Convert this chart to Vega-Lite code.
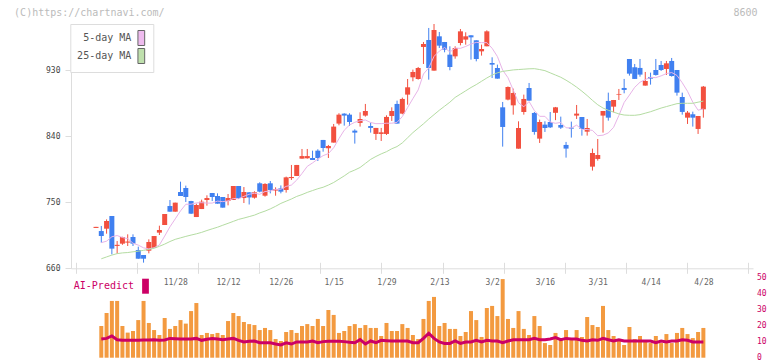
{
"$schema": "https://vega.github.io/schema/vega-lite/v6.json",
"width": 682, "height": 244.3,
"padding": {"left": 71, "top": 24, "right": 19, "bottom": 92.7},
"autosize": {"type": "none"},
"background": "white",
"config": {"view": {"stroke": null}, "axis": {"grid": false}},
"data": {"values": [
{"i":0,"o":715,"h":716.5,"l":715,"c":716.5,"v":null,"p":null,"m5":null,"m25":null},
{"i":1,"o":710.8,"h":717.7,"l":694.9,"c":704,"v":19.7,"p":11.6,"m5":695,"m25":673},
{"i":2,"o":714,"h":726.7,"l":707.2,"c":724.5,"v":27.8,"p":12,"m5":697,"m25":675.5},
{"i":3,"o":731.3,"h":731.3,"l":679,"c":686.8,"v":35.3,"p":13.5,"m5":703,"m25":678},
{"i":4,"o":690.5,"h":697.2,"l":679.9,"c":692,"v":35.3,"p":11.2,"m5":704.7,"m25":680},
{"i":5,"o":693.6,"h":703,"l":692,"c":702.7,"v":19.7,"p":10.8,"m5":702,"m25":681},
{"i":6,"o":695,"h":706.3,"l":690.4,"c":696.5,"v":15.6,"p":10.8,"m5":700.4,"m25":681.5},
{"i":7,"o":702.7,"h":706.3,"l":690.4,"c":693.6,"v":16.6,"p":10.8,"m5":694.2,"m25":682.5},
{"i":8,"o":684.9,"h":689.5,"l":673,"c":673.1,"v":23.4,"p":10.8,"m5":691.6,"m25":683.3},
{"i":9,"o":678.1,"h":678.1,"l":667.7,"c":673.1,"v":35.3,"p":11,"m5":687.9,"m25":684.5},
{"i":10,"o":684,"h":699.5,"l":680.4,"c":695.9,"v":21.6,"p":11,"m5":686.5,"m25":685.8},
{"i":11,"o":687.7,"h":704,"l":687.7,"c":704,"v":17.2,"p":11.2,"m5":688.1,"m25":687.3},
{"i":12,"o":708.6,"h":718.1,"l":705.4,"c":712.2,"v":14.1,"p":10.8,"m5":691.8,"m25":690},
{"i":13,"o":719,"h":734,"l":719,"c":734,"v":24.7,"p":11,"m5":703.9,"m25":693},
{"i":14,"o":744.9,"h":753.1,"l":737.2,"c":737.2,"v":17.9,"p":12,"m5":716.6,"m25":696.5},
{"i":15,"o":737.2,"h":749.5,"l":737.2,"c":749.5,"v":19.7,"p":11.8,"m5":727.4,"m25":699.5},
{"i":16,"o":764,"h":778.1,"l":758.6,"c":758.6,"v":23.4,"p":11.6,"m5":738.3,"m25":701.5},
{"i":17,"o":769.5,"h":772.7,"l":750.4,"c":757.2,"v":21.2,"p":11.6,"m5":747.3,"m25":703.5},
{"i":18,"o":751.7,"h":752,"l":734,"c":734.5,"v":29,"p":11.6,"m5":747.4,"m25":705.3},
{"i":19,"o":729.9,"h":748.1,"l":729.9,"c":746.3,"v":34,"p":12,"m5":749.2,"m25":707},
{"i":20,"o":740.8,"h":753.6,"l":740.8,"c":750.8,"v":14.1,"p":10.8,"m5":749.5,"m25":709},
{"i":21,"o":753.1,"h":759.5,"l":745.4,"c":755.8,"v":15.4,"p":11.5,"m5":748.9,"m25":711.5},
{"i":22,"o":762.7,"h":762.7,"l":751.7,"c":757.2,"v":14.7,"p":12,"m5":748.9,"m25":713.8},
{"i":23,"o":758.6,"h":762.2,"l":748.1,"c":748.1,"v":15.4,"p":11.6,"m5":751.6,"m25":716},
{"i":24,"o":757.2,"h":757.2,"l":742.7,"c":742.7,"v":14.1,"p":11.2,"m5":750.9,"m25":718.7},
{"i":25,"o":751.7,"h":761.3,"l":745.8,"c":755.8,"v":22.8,"p":11.6,"m5":751.9,"m25":721.3},
{"i":26,"o":753.1,"h":772.2,"l":753.1,"c":772.2,"v":27.8,"p":12,"m5":755.2,"m25":724},
{"i":27,"o":772.2,"h":772.2,"l":754.5,"c":755.8,"v":25.9,"p":10.8,"m5":754.9,"m25":726.7},
{"i":28,"o":755.8,"h":770.8,"l":749,"c":764,"v":22.2,"p":9.8,"m5":758.1,"m25":728.5},
{"i":29,"o":763.6,"h":764,"l":747,"c":756.6,"v":20.9,"p":10.2,"m5":760.9,"m25":730.5},
{"i":30,"o":756.3,"h":765,"l":755,"c":763.6,"v":20.3,"p":10.4,"m5":762.4,"m25":732.5},
{"i":31,"o":775.9,"h":777.3,"l":763.6,"c":764.5,"v":17.2,"p":9.3,"m5":760.9,"m25":735.5},
{"i":32,"o":759,"h":776,"l":757.7,"c":775,"v":18.5,"p":9.3,"m5":764.7,"m25":738},
{"i":33,"o":775.9,"h":779,"l":762.2,"c":766.8,"v":17.2,"p":9.3,"m5":765.3,"m25":741},
{"i":34,"o":766,"h":770.4,"l":759,"c":768,"v":11.6,"p":8.5,"m5":767.6,"m25":744.5},
{"i":35,"o":769,"h":773,"l":762.2,"c":764.5,"v":10.4,"p":7.9,"m5":767.8,"m25":748.5},
{"i":36,"o":766.8,"h":785,"l":763.2,"c":784,"v":16,"p":9.3,"m5":771.7,"m25":751.5},
{"i":37,"o":783,"h":800.9,"l":780.5,"c":784.5,"v":17.2,"p":8.5,"m5":773.5,"m25":754.5},
{"i":38,"o":785.9,"h":800.9,"l":785.9,"c":800.9,"v":15.4,"p":9.8,"m5":780.3,"m25":758},
{"i":39,"o":809.5,"h":822.7,"l":809.5,"c":813,"v":19.7,"p":9.8,"m5":789.3,"m25":760.5},
{"i":40,"o":810,"h":822.7,"l":809.5,"c":813,"v":20.9,"p":9.8,"m5":799,"m25":763.5},
{"i":41,"o":810.4,"h":820.4,"l":807.7,"c":807.7,"v":19.7,"p":10.4,"m5":803.7,"m25":766},
{"i":42,"o":820.4,"h":822.3,"l":806.3,"c":810.4,"v":24.1,"p":9.3,"m5":809,"m25":768.5},
{"i":43,"o":835,"h":835,"l":819,"c":824,"v":19.7,"p":10,"m5":813.6,"m25":770.5},
{"i":44,"o":823.6,"h":828.2,"l":810.4,"c":826.8,"v":29.7,"p":10.2,"m5":816.4,"m25":773.5},
{"i":45,"o":831.4,"h":856.8,"l":831.4,"c":853.2,"v":26.6,"p":10.2,"m5":824.4,"m25":777},
{"i":46,"o":857.3,"h":871.4,"l":855,"c":869.5,"v":15.4,"p":10.2,"m5":836.8,"m25":781.5},
{"i":47,"o":870.9,"h":871.4,"l":854.5,"c":868.2,"v":16.6,"p":10,"m5":848.3,"m25":786},
{"i":48,"o":869.5,"h":871.4,"l":854.1,"c":859.5,"v":19.7,"p":9.6,"m5":855.4,"m25":791},
{"i":49,"o":847.7,"h":849.5,"l":830,"c":845,"v":20.9,"p":9.3,"m5":859.1,"m25":794},
{"i":50,"o":858.2,"h":872.7,"l":853.2,"c":863.6,"v":18.5,"p":11.2,"m5":861.2,"m25":797.5},
{"i":51,"o":868.2,"h":884.1,"l":866.8,"c":874.5,"v":20.3,"p":8.5,"m5":862.2,"m25":803},
{"i":52,"o":854,"h":858.6,"l":845,"c":851.4,"v":18.5,"p":10.4,"m5":858.8,"m25":808.5},
{"i":53,"o":843.2,"h":851.4,"l":835,"c":851.4,"v":18.5,"p":9.3,"m5":857.2,"m25":812.5},
{"i":54,"o":843.2,"h":851.4,"l":833.6,"c":845.4,"v":13.5,"p":10.8,"m5":857.3,"m25":816},
{"i":55,"o":843.2,"h":868.6,"l":841.8,"c":866.4,"v":21.6,"p":10.6,"m5":857.8,"m25":819},
{"i":56,"o":867.7,"h":879.5,"l":860.9,"c":874.5,"v":16.6,"p":10.4,"m5":857.8,"m25":823},
{"i":57,"o":884.1,"h":888.6,"l":857.3,"c":857.3,"v":16.6,"p":10.4,"m5":859,"m25":826},
{"i":58,"o":870.9,"h":892.7,"l":870,"c":890.9,"v":20.9,"p":10.4,"m5":866.9,"m25":831},
{"i":59,"o":896.8,"h":918.1,"l":883.1,"c":906.8,"v":18.5,"p":10.4,"m5":879.2,"m25":838},
{"i":60,"o":920.4,"h":930.9,"l":915,"c":927.7,"v":14.1,"p":9.3,"m5":891.4,"m25":845},
{"i":61,"o":918.1,"h":934.5,"l":917.2,"c":933.1,"v":11.6,"p":9.3,"m5":903.2,"m25":851},
{"i":62,"o":961.8,"h":968.6,"l":938.6,"c":965.8,"v":24.1,"p":12,"m5":924.9,"m25":857},
{"i":63,"o":971.3,"h":987.7,"l":917.2,"c":933.1,"v":35.3,"p":15.2,"m5":933.3,"m25":863.5},
{"i":64,"o":929.5,"h":993.1,"l":929.5,"c":984.9,"v":37.8,"p":12,"m5":948.9,"m25":869.5},
{"i":65,"o":976.3,"h":982.2,"l":960.4,"c":963.6,"v":19.7,"p":9.8,"m5":956.1,"m25":875.5},
{"i":66,"o":968.6,"h":968.6,"l":954.5,"c":958.1,"v":21.6,"p":8.9,"m5":961.1,"m25":881},
{"i":67,"o":951.3,"h":962.7,"l":930,"c":934.5,"v":17.9,"p":8.9,"m5":954.8,"m25":886.5},
{"i":68,"o":949,"h":962.7,"l":945.8,"c":960.4,"v":17.9,"p":10.4,"m5":960.3,"m25":893},
{"i":69,"o":967.2,"h":986.3,"l":964,"c":983.1,"v":13.5,"p":8.9,"m5":959.9,"m25":897.5},
{"i":70,"o":971.8,"h":981.8,"l":964.9,"c":976.3,"v":16,"p":9.8,"m5":962.5,"m25":902},
{"i":71,"o":977.7,"h":977.7,"l":944.5,"c":974.9,"v":29,"p":9.8,"m5":965.8,"m25":906.5},
{"i":72,"o":970.9,"h":970.9,"l":942.2,"c":945.4,"v":23.4,"p":10.8,"m5":968,"m25":910.5},
{"i":73,"o":955.8,"h":965,"l":950,"c":959,"v":12.9,"p":9.8,"m5":967.7,"m25":915},
{"i":74,"o":962.7,"h":984.5,"l":962.7,"c":983.1,"v":30.9,"p":10.8,"m5":967.7,"m25":919.5},
{"i":75,"o":939.9,"h":947.7,"l":919.5,"c":937.7,"v":32.2,"p":10.4,"m5":960,"m25":923.5},
{"i":76,"o":933.1,"h":937.7,"l":918.6,"c":918.6,"v":25.9,"p":10.4,"m5":948.8,"m25":926.5},
{"i":77,"o":879.5,"h":886.8,"l":825.9,"c":852.7,"v":48.9,"p":9.3,"m5":930.2,"m25":928.5},
{"i":78,"o":890,"h":908,"l":889,"c":907.2,"v":24.1,"p":10.4,"m5":919.9,"m25":929.5},
{"i":79,"o":882.2,"h":905,"l":869.5,"c":899,"v":18.5,"p":11.2,"m5":903,"m25":930.5},
{"i":80,"o":823.1,"h":860.4,"l":823.1,"c":851.3,"v":29,"p":11.2,"m5":885.8,"m25":931},
{"i":81,"o":873.1,"h":896.8,"l":869.5,"c":890.9,"v":17.9,"p":11.2,"m5":880.2,"m25":931.5},
{"i":82,"o":905.8,"h":912.7,"l":888.6,"c":888.6,"v":14.1,"p":11.2,"m5":887.4,"m25":932},
{"i":83,"o":871.8,"h":873.1,"l":842.2,"c":845.9,"v":25.9,"p":12,"m5":875.1,"m25":932.2},
{"i":84,"o":836.8,"h":862.7,"l":830.9,"c":859.5,"v":19.7,"p":11.2,"m5":867.2,"m25":931},
{"i":85,"o":855.9,"h":860.4,"l":845.9,"c":851.3,"v":9.1,"p":11.2,"m5":867.2,"m25":929.5},
{"i":86,"o":859.5,"h":873.1,"l":851.3,"c":852.2,"v":7.9,"p":11.6,"m5":859.5,"m25":926.5},
{"i":87,"o":872,"h":880,"l":862,"c":879.5,"v":15.4,"p":12.5,"m5":857.7,"m25":923.5},
{"i":88,"o":855.4,"h":866.8,"l":850,"c":851.8,"v":11.6,"p":11.2,"m5":858.9,"m25":920.5},
{"i":89,"o":828.2,"h":832.3,"l":810.9,"c":823.2,"v":17.2,"p":12,"m5":851.6,"m25":916.5},
{"i":90,"o":851.8,"h":860,"l":838.2,"c":850.4,"v":11.6,"p":11.6,"m5":851.4,"m25":912},
{"i":91,"o":868.2,"h":882.7,"l":863.6,"c":870.9,"v":17.2,"p":11.6,"m5":855.2,"m25":907},
{"i":92,"o":866.3,"h":866.3,"l":840.9,"c":850,"v":12.9,"p":10.8,"m5":849.3,"m25":901.5},
{"i":93,"o":846.3,"h":863.6,"l":840.9,"c":851.3,"v":25.3,"p":10.4,"m5":849.2,"m25":895.5},
{"i":94,"o":798.6,"h":823.2,"l":793.2,"c":817.2,"v":20.3,"p":11.2,"m5":848,"m25":889},
{"i":95,"o":809.1,"h":836.3,"l":806.8,"c":814.5,"v":19.1,"p":10.8,"m5":840.8,"m25":883},
{"i":96,"o":868.2,"h":874.5,"l":845,"c":874.5,"v":32.2,"p":12,"m5":841.5,"m25":878.5},
{"i":97,"o":888.2,"h":899.5,"l":861.3,"c":865.4,"v":17.2,"p":11.2,"m5":844.6,"m25":875.5},
{"i":98,"o":880.4,"h":889.5,"l":872.7,"c":889.5,"v":13.5,"p":10.4,"m5":852.2,"m25":873},
{"i":99,"o":896.8,"h":904.5,"l":889.5,"c":897.7,"v":11.6,"p":11.2,"m5":868.3,"m25":870.5},
{"i":100,"o":905.9,"h":918.2,"l":898.6,"c":903.2,"v":7.9,"p":10.4,"m5":886.1,"m25":869},
{"i":101,"o":945.4,"h":945.4,"l":922.7,"c":925.4,"v":19.1,"p":10.4,"m5":896.2,"m25":868.6},
{"i":102,"o":934.1,"h":938.6,"l":918.2,"c":918.2,"v":11.6,"p":10.4,"m5":906.8,"m25":868.6},
{"i":103,"o":933.2,"h":945.4,"l":921.3,"c":924.1,"v":13.5,"p":10.4,"m5":913.7,"m25":869.5},
{"i":104,"o":909.1,"h":927.7,"l":909.1,"c":915.4,"v":11,"p":10.4,"m5":917.3,"m25":871.5},
{"i":105,"o":920.9,"h":926.8,"l":910.4,"c":918.6,"v":9.1,"p":10.4,"m5":920.3,"m25":873.5},
{"i":106,"o":930.4,"h":945.4,"l":922.7,"c":923.6,"v":13.5,"p":9.3,"m5":920,"m25":876},
{"i":107,"o":937.2,"h":942.7,"l":929.1,"c":930.4,"v":9.1,"p":10.4,"m5":922.4,"m25":878.5},
{"i":108,"o":931.8,"h":942.7,"l":923.6,"c":939.5,"v":14.7,"p":9.8,"m5":925.5,"m25":880.5},
{"i":109,"o":942.7,"h":946.8,"l":921.3,"c":922.2,"v":9.1,"p":10.4,"m5":926.9,"m25":882.5},
{"i":110,"o":930.4,"h":930.4,"l":895.4,"c":899.5,"v":15.4,"p":10.4,"m5":923,"m25":884.5},
{"i":111,"o":893.6,"h":899.5,"l":869.5,"c":873.2,"v":18.5,"p":11.2,"m5":913,"m25":885},
{"i":112,"o":865.4,"h":874.5,"l":856.8,"c":872.3,"v":14.7,"p":10.8,"m5":901.3,"m25":885},
{"i":113,"o":870,"h":873.6,"l":853.2,"c":865.4,"v":12.2,"p":9.8,"m5":886.5,"m25":885},
{"i":114,"o":850,"h":867.7,"l":843.2,"c":867.7,"v":16,"p":9.8,"m5":875.6,"m25":886.5},
{"i":115,"o":876.8,"h":908.6,"l":865.4,"c":907.7,"v":18.5,"p":9.8,"m5":877.3,"m25":888}
]},
"layer": [
 {
  "encoding": {
   "x": {"field": "i", "type": "quantitative",
         "scale": {"domain": [-3.79, 123.45], "nice": false, "zero": false},
         "axis": {"orient": "bottom", "title": null, "labels": false, "domain": false, "ticks": true,
                  "tickSize": 11, "tickColor": "#dddddd", "tickWidth": 1, "offset": -6,
                  "values": [-3.79, 7.777, 19.345, 30.912, 42.479, 54.047, 65.614, 77.181, 88.749, 100.316, 111.883, 123.45]}}
  },
  "layer": [
   {"mark": {"type": "rule", "strokeWidth": 1},
    "encoding": {
     "y": {"field": "l", "type": "quantitative", "scale": {"domain": [660, 993.1], "nice": false, "zero": false},
           "axis": {"orient": "left", "values": [660, 750, 840, 930], "tickSize": 6, "tickColor": "#dddddd", "domainColor": "#dddddd",
                    "labelFont": "DejaVu Sans Mono", "labelFontSize": 8, "labelColor": "#444444", "labelPadding": 5,
                    "title": "(C)https://chartnavi.com/", "titleAngle": 0, "titleX": -57.4, "titleY": -11.7,
                    "titleAlign": "left", "titleBaseline": "middle", "titleFont": "DejaVu Sans Mono", "titleFontSize": 10,
                    "titleFontWeight": "normal", "titleColor": "#bbbbbb"}},
     "y2": {"field": "h"},
     "color": {"condition": {"test": "datum.c >= datum.o", "value": "#f2503f"}, "value": "#4080f0"}
    }},
   {"mark": {"type": "bar", "size": 5},
    "encoding": {
     "y": {"field": "o", "type": "quantitative", "scale": {"domain": [660, 993.1], "nice": false, "zero": false}},
     "y2": {"field": "c"},
     "color": {"condition": {"test": "datum.c >= datum.o", "value": "#f2503f"}, "value": "#4080f0"}
    }},
   {"mark": {"type": "line", "strokeWidth": 1, "color": "#e8b4e8"},
    "encoding": {
     "y": {"field": "m5", "type": "quantitative", "scale": {"domain": [660, 993.1], "nice": false, "zero": false}}
    }},
   {"mark": {"type": "line", "strokeWidth": 1, "color": "#b4dca2"},
    "encoding": {
     "y": {"field": "m25", "type": "quantitative", "scale": {"domain": [660, 993.1], "nice": false, "zero": false}}
    }},
   {"transform": [{"filter": "false"}],
    "mark": {"type": "square", "filled": true, "opacity": 1},
    "encoding": {
     "fill": {"datum": "5-day MA", "type": "nominal",
              "scale": {"domain": ["5-day MA", "25-day MA"], "range": ["#eebbee", "#bfe0ad"]},
              "legend": {"orient": "none", "legendX": -0.7, "legendY": 0, "title": null,
                         "symbolType": "M-0.45,-1H0.45V1H-0.45Z", "symbolSize": 225, "symbolOpacity": 1,
                         "symbolStrokeColor": "#666666", "symbolStrokeWidth": 1,
                         "labelAlign": "right", "labelOffset": -18, "symbolOffset": 57,
                         "labelFont": "DejaVu Sans Mono", "labelFontSize": 10, "labelColor": "#555555",
                         "padding": 6, "rowPadding": -2, "fillColor": "white", "strokeColor": "#dddddd"}}
    }}
  ]
 },
 {
  "encoding": {
   "x": {"field": "i", "type": "quantitative",
         "scale": {"domain": [-3.79, 123.45], "nice": false, "zero": false},
         "axis": {"orient": "bottom", "title": null, "domain": true, "domainColor": "#dddddd", "ticks": false, "tickSize": 0,
                  "values": [15, 25, 35, 45, 55, 65, 75, 85, 95, 105, 115],
                  "labelExpr": "datum.value == 15 ? '11/28' : datum.value == 25 ? '12/12' : datum.value == 35 ? '12/26' : datum.value == 45 ? '1/15' : datum.value == 55 ? '1/29' : datum.value == 65 ? '2/13' : datum.value == 75 ? '3/2' : datum.value == 85 ? '3/16' : datum.value == 95 ? '3/31' : datum.value == 105 ? '4/14' : '4/28'",
                  "labelPadding": 10, "labelFont": "DejaVu Sans Mono", "labelFontSize": 8, "labelColor": "#666666"}}
  },
  "layer": [
   {"mark": {"type": "bar", "size": 4, "color": "#f39a40"},
    "encoding": {
     "y": {"field": "v", "type": "quantitative", "scale": {"domain": [0, 50], "range": [333.7, 253.3], "nice": false},
           "axis": {"orient": "right", "values": [0, 10, 20, 30, 40, 50], "domain": false, "ticks": false, "tickSize": 0,
                    "labelPadding": 3.5, "labelFont": "DejaVu Sans Mono", "labelFontSize": 8, "labelColor": "#cc0066",
                    "title": "8600", "titleAngle": 0, "titleX": 4, "titleY": -11.7, "titleAlign": "right", "titleBaseline": "middle",
                    "titleFont": "DejaVu Sans Mono", "titleFontSize": 10, "titleFontWeight": "normal", "titleColor": "#bbbbbb"}}
    }},
   {"mark": {"type": "line", "strokeWidth": 3, "color": "#cc0066"},
    "encoding": {
     "y": {"field": "p", "type": "quantitative", "scale": {"domain": [0, 50], "range": [333.7, 253.3], "nice": false}}
    }},
   {"transform": [{"filter": "false"}],
    "mark": {"type": "square", "filled": true, "opacity": 1},
    "encoding": {
     "fill": {"datum": "AI-Predict", "type": "nominal", "scale": {"domain": ["AI-Predict"], "range": ["#cc0066"]},
              "legend": {"orient": "none", "legendX": 3, "legendY": 254.7, "title": null,
                         "symbolType": "M-0.45,-1H0.45V1H-0.45Z", "symbolSize": 225, "symbolStrokeWidth": 0, "symbolOpacity": 1,
                         "labelAlign": "right", "labelOffset": -19, "symbolOffset": 64,
                         "labelFont": "DejaVu Sans Mono", "labelFontSize": 10, "labelColor": "#cc0066", "padding": 0}}
    }}
  ]
 }
],
"resolve": {"scale": {"y": "independent", "fill": "independent"}, "axis": {"x": "independent", "y": "independent"}}
}
